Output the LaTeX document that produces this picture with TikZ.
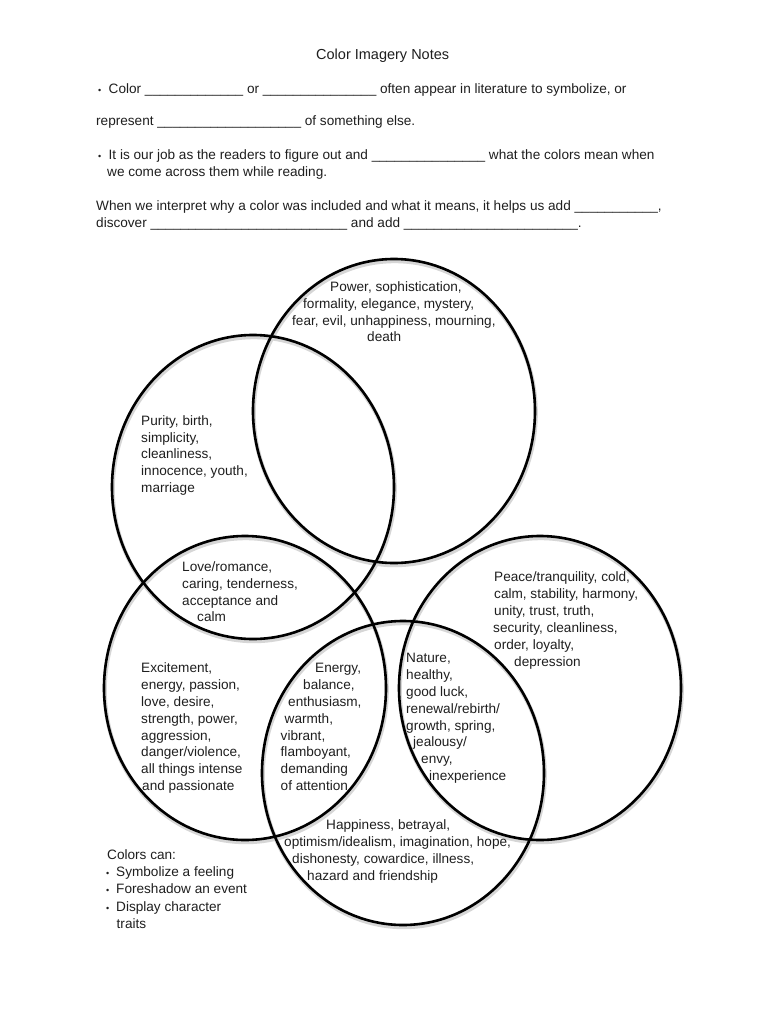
\documentclass[tikz,border=0pt]{standalone}
\usepackage{fontspec}
\setmainfont{Liberation Sans}
\newcount\ucnt
\newcommand\blanks[1]{\ucnt=#1\relax\loop\ifnum\ucnt>0 \textunderscore\advance\ucnt by -1\relax\repeat}
\newcommand\hbul{\makebox[10.5pt][l]{\fontsize{9}{9}\selectfont •}}
\newcommand\cbul{\makebox[10pt][l]{\fontsize{9}{9}\selectfont •}}
\begin{document}
\begin{tikzpicture}[x=1pt,y=-1pt,
  ring/.style={draw=black,line width=2.6pt},
  ringshadow/.style={draw=black!16,line width=4pt},
  lbl/.style={anchor=base west,inner sep=0pt,text=black!88,font=\fontsize{13.6}{16.7}\selectfont},
  ttl/.style={anchor=base west,inner sep=0pt,text=black!88,font=\fontsize{14.5}{17}\selectfont}]
\useasboundingbox (0,0) rectangle (768,1024);
\fill[white] (0,0) rectangle (768,1024);

% ellipses (shadow first, then outline)
\foreach \cx/\cy in {394/411, 253/487, 245/688, 540/688, 403/773}
  \draw[ringshadow] (\cx+0.8,\cy+2.2) ellipse [x radius=141, y radius=152];
\foreach \cx/\cy in {394/411, 253/487, 245/688, 540/688, 403/773}
  \draw[ring] (\cx,\cy) ellipse [x radius=141, y radius=152];

% header
\node[ttl] (title) at (316,60) {Color Imagery Notes};
\node[lbl] (h1) at (98,93.5) {\hbul Color \blanks{13} or \blanks{15} often appear in literature to symbolize, or};
\node[lbl] (h2) at (96,126) {represent \blanks{19} of something else.};
\node[lbl] (h3) at (98,160) {\hbul It is our job as the readers to figure out and \blanks{15} what the colors mean when};
\node[lbl] (h4) at (107,176.5) {we come across them while reading.};
\node[lbl] (h5) at (96,210.5) {When we interpret why a color was included and what it means, it helps us add \blanks{11},};
\node[lbl] (h6) at (96,227) {discover \blanks{26} and add \blanks{23}.};

% top circle
\foreach \x/\y/\t [count=\i] in {330/291.5/{Power, sophistication,},
    303/308.3/{formality, elegance, mystery,},
    292/325.1/{fear, evil, unhappiness, mourning,},
    367/341.9/{death}}
  \node[lbl] (top\i) at (\x,\y) {\t};

% upper-left circle
\foreach \x/\y/\t [count=\i] in {141/425.5/{Purity, birth,},
    141/442.2/{simplicity,},
    141/458.9/{cleanliness,},
    141/475.6/{innocence, youth,},
    141/492.3/{marriage}}
  \node[lbl] (ul\i) at (\x,\y) {\t};

% overlap upper-left / lower-left
\foreach \x/\y/\t [count=\i] in {182/571.2/{Love/romance,},
    182/588.3/{caring, tenderness,},
    182/605.3/{acceptance and},
    197/621.8/{calm}}
  \node[lbl] (love\i) at (\x,\y) {\t};

% lower-left circle
\foreach \x/\y/\t [count=\i] in {141/672.8/{Excitement,},
    141/689.6/{energy, passion,},
    141/706.4/{love, desire,},
    141/723.2/{strength, power,},
    141/740.0/{aggression,},
    141/756.8/{danger/violence,},
    141/773.6/{all things intense},
    142/790.4/{and passionate}}
  \node[lbl] (ll\i) at (\x,\y) {\t};

% overlap lower-left / bottom
\foreach \x/\y/\t [count=\i] in {315/672.8/{Energy,},
    303/689.6/{balance,},
    288/706.4/{enthusiasm,},
    284.5/723.2/{warmth,},
    280.5/740.0/{vibrant,},
    280.5/756.8/{flamboyant,},
    280.5/773.6/{demanding},
    280.5/790.4/{of attention}}
  \node[lbl] (en\i) at (\x,\y) {\t};

% right circle
\foreach \x/\y/\t [count=\i] in {494/581.8/{Peace/tranquility, cold,},
    494/598.7/{calm, stability, harmony,},
    494/615.6/{unity, trust, truth,},
    493/632.5/{security, cleanliness,},
    494/649.4/{order, loyalty,},
    514/666.3/{depression}}
  \node[lbl] (rt\i) at (\x,\y) {\t};

% overlap right / bottom
\foreach \x/\y/\t [count=\i] in {406/662.8/{Nature,},
    406/679.6/{healthy,},
    406/696.4/{good luck,},
    406/713.2/{renewal/rebirth/},
    406/730.0/{growth, spring,},
    413/746.8/{jealousy/},
    421/763.6/{envy,},
    429/780.4/{inexperience}}
  \node[lbl] (na\i) at (\x,\y) {\t};

% bottom circle
\foreach \x/\y/\t [count=\i] in {326/829.5/{Happiness, betrayal,},
    284/846.5/{optimism/idealism, imagination, hope,},
    292/863.5/{dishonesty, cowardice, illness,},
    307/880.5/{hazard and friendship}}
  \node[lbl] (bt\i) at (\x,\y) {\t};

% side note
\node[lbl] (cc0) at (107,859.5) {Colors can:};
\node[lbl] (cc1) at (106,876.5) {\cbul Symbolize a feeling};
\node[lbl] (cc2) at (106,893.8) {\cbul Foreshadow an event};
\node[lbl] (cc3) at (106,911) {\cbul Display character};
\node[lbl] (cc4) at (116.5,928) {traits};
\end{tikzpicture}
\end{document}
